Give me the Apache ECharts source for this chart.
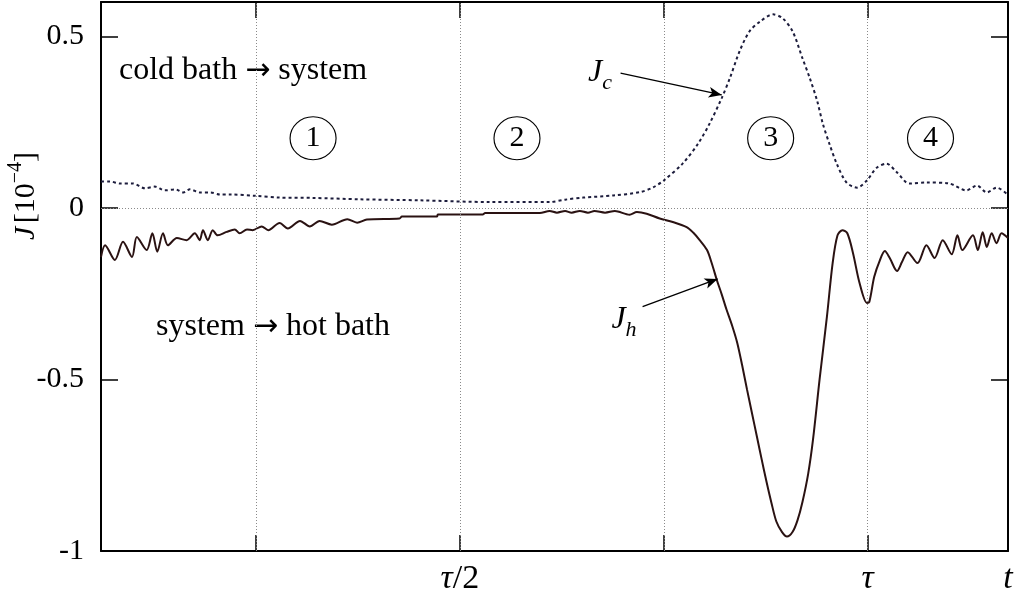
<!DOCTYPE html>
<html>
<head>
<meta charset="utf-8">
<script src="https://cdn.jsdelivr.net/npm/echarts@6/dist/echarts.min.js"></script>
<style>
  html, body { margin: 0; padding: 0; background: #fff; }
  #chart { width: 1020px; height: 601px; }
</style>
</head>
<body>
<div id="chart"></div>
<script>
// Time in units of the cycle period tau, heat currents in units of 1e-4.
const jcTime = [0.060,0.071,0.083,0.099,0.114,0.126,0.138,0.151,0.161,0.169,0.181,0.194,0.206,0.218,0.250,0.279,0.320,0.377,0.451,0.537,0.610,0.629,0.651,0.688,0.721,0.737,0.750,0.773,0.792,0.806,0.821,0.831,0.843,0.855,0.868,0.884,0.896,0.908,0.920,0.929,0.938,0.945,0.953,0.962,0.974,0.987,0.999,1.011,1.023,1.036,1.051,1.072,1.100,1.121,1.134,1.146,1.158,1.170];
const jcValue = [0.077,0.077,0.071,0.071,0.057,0.062,0.051,0.054,0.045,0.054,0.045,0.045,0.039,0.039,0.035,0.030,0.029,0.025,0.022,0.017,0.017,0.024,0.030,0.036,0.046,0.060,0.080,0.129,0.187,0.245,0.320,0.378,0.457,0.514,0.543,0.564,0.552,0.514,0.436,0.378,0.312,0.245,0.187,0.129,0.074,0.059,0.080,0.117,0.129,0.103,0.071,0.074,0.071,0.051,0.065,0.045,0.059,0.042];

const jhTime = [0.060,0.065,0.077,0.087,0.098,0.104,0.116,0.123,0.129,0.136,0.142,0.153,0.165,0.175,0.181,0.185,0.191,0.197,0.203,0.214,0.224,0.230,0.239,0.246,0.257,0.265,0.279,0.289,0.304,0.316,0.328,0.343,0.362,0.374,0.386,0.426,0.429,0.472,0.473,0.528,0.531,0.598,0.610,0.619,0.629,0.637,0.647,0.657,0.665,0.678,0.690,0.708,0.717,0.729,0.745,0.761,0.778,0.786,0.794,0.803,0.809,0.815,0.821,0.827,0.834,0.840,0.846,0.852,0.858,0.864,0.870,0.876,0.882,0.888,0.895,0.901,0.908,0.914,0.920,0.927,0.933,0.941,0.950,0.957,0.963,0.969,0.975,0.982,0.990,0.999,1.002,1.008,1.015,1.021,1.027,1.036,1.042,1.049,1.061,1.072,1.082,1.092,1.103,1.110,1.116,1.129,1.135,1.141,1.146,1.152,1.158,1.164,1.172];
const jhValue = [-0.143,-0.109,-0.152,-0.099,-0.143,-0.085,-0.123,-0.074,-0.128,-0.074,-0.109,-0.088,-0.094,-0.074,-0.094,-0.065,-0.094,-0.065,-0.080,-0.070,-0.063,-0.074,-0.063,-0.065,-0.054,-0.065,-0.044,-0.060,-0.038,-0.054,-0.038,-0.049,-0.033,-0.043,-0.034,-0.031,-0.025,-0.025,-0.019,-0.019,-0.015,-0.015,-0.009,-0.014,-0.009,-0.014,-0.009,-0.014,-0.009,-0.014,-0.009,-0.020,-0.012,-0.017,-0.031,-0.041,-0.056,-0.072,-0.094,-0.123,-0.163,-0.210,-0.252,-0.297,-0.345,-0.393,-0.458,-0.529,-0.597,-0.665,-0.733,-0.799,-0.860,-0.914,-0.945,-0.958,-0.944,-0.910,-0.857,-0.775,-0.674,-0.500,-0.317,-0.161,-0.080,-0.065,-0.074,-0.132,-0.219,-0.277,-0.274,-0.201,-0.152,-0.126,-0.146,-0.184,-0.158,-0.129,-0.161,-0.109,-0.146,-0.094,-0.135,-0.080,-0.123,-0.080,-0.123,-0.071,-0.114,-0.074,-0.103,-0.074,-0.088];

// Axis ticks and labels
const xTicks = [0.25, 0.5, 0.75, 1.0];
const xTickLabels = { '0.5': '{i|τ}{n|/2}', '1': '{i|τ}', '1.172': '{i|t}' };
const yTicks = [-1, -0.5, 0, 0.5];
const yTickLabels = ['-1', '-0.5', '0', '0.5'];

// Stage markers (circled numbers) and arrows pointing at the curves
const stageNames = ['1', '2', '3', '4'];
const stageTime = [0.320, 0.570, 0.881, 1.077];
const stageLevel = [0.203, 0.203, 0.203, 0.203];
const arrowJc = [[0.697, 0.393], [0.821, 0.329]];
const arrowJh = [[0.724, -0.288], [0.816, -0.207]];

const SERIF = '"Liberation Serif", "Times New Roman", serif';
const ARROWFONT = '"DejaVu Sans", sans-serif';
const X_MIN = 0.06, X_MAX = 1.172;

const zip = (a, b) => a.map((v, i) => [v, b[i]]);

const chart = echarts.init(document.getElementById('chart'), null, { renderer: 'canvas' });

const frameLine = { show: true, onZero: false, lineStyle: { color: '#000', width: 2 } };
const tickStyle = { color: '#000', width: 1.5 };

const plainText = { fontFamily: SERIF, fontSize: 32, fill: '#000', verticalAlign: 'middle', lineHeight: 40 };
const arrowText = { fontFamily: ARROWFONT, fontSize: 30, fill: '#000', verticalAlign: 'middle', lineHeight: 40 };
const subLabel = {
  i: { fontFamily: SERIF, fontStyle: 'italic', fontSize: 32, fill: '#000', lineHeight: 42, verticalAlign: 'middle' },
  s: { fontFamily: SERIF, fontStyle: 'italic', fontSize: 22, fill: '#000', lineHeight: 42, verticalAlign: 'bottom' }
};

chart.setOption({
  animation: false,
  backgroundColor: '#fff',
  grid: { left: 101, right: 12, top: 2, bottom: 50 },
  xAxis: [
    {
      type: 'value', min: X_MIN, max: X_MAX, position: 'bottom',
      axisLine: frameLine,
      axisTick: { show: true, inside: true, length: 16, lineStyle: tickStyle, customValues: xTicks },
      axisLabel: {
        show: true, margin: 11, customValues: [0.5, 1.0, 1.172],
        formatter: v => xTickLabels[String(Math.round(v * 1000) / 1000)] || '',
        rich: {
          i: { fontFamily: SERIF, fontStyle: 'italic', fontSize: 34, color: '#000' },
          n: { fontFamily: SERIF, fontSize: 34, color: '#000' }
        }
      },
      splitLine: { show: false }
    },
    {
      type: 'value', min: X_MIN, max: X_MAX, position: 'top',
      axisLine: frameLine,
      axisTick: { show: true, inside: true, length: 16, lineStyle: tickStyle, customValues: xTicks },
      axisLabel: { show: false },
      splitLine: { show: false }
    }
  ],
  yAxis: [
    {
      type: 'value', min: -1, max: 0.6, position: 'left',
      axisLine: frameLine,
      axisTick: { show: true, inside: true, length: 17, lineStyle: tickStyle, customValues: yTicks },
      axisLabel: {
        show: true, margin: 17, customValues: yTicks,
        formatter: v => yTickLabels[yTicks.findIndex(t => Math.abs(t - v) < 1e-6)] || '',
        fontFamily: SERIF, fontSize: 30, color: '#000'
      },
      splitLine: { show: false }
    },
    {
      type: 'value', min: -1, max: 0.6, position: 'right',
      axisLine: frameLine,
      axisTick: { show: true, inside: true, length: 17, lineStyle: tickStyle, customValues: yTicks },
      axisLabel: { show: false },
      splitLine: { show: false }
    }
  ],
  series: [
    {
      // dotted reference grid: quarter periods and the zero line
      type: 'line', data: [], z: 1, silent: true,
      markLine: {
        silent: true, symbol: ['none', 'none'], label: { show: false },
        lineStyle: { color: '#8a8a8a', width: 1, type: [1, 2] },
        emphasis: { disabled: true },
        data: xTicks.map(t => ({ xAxis: t })).concat([{ yAxis: 0 }])
      }
    },
    {
      name: 'Jc', type: 'line', data: zip(jcTime, jcValue), showSymbol: false, z: 3, smooth: 0.3,
      lineStyle: { color: '#1c1c3c', width: 2, type: [3, 3] }
    },
    {
      name: 'Jh', type: 'line', data: zip(jhTime, jhValue), showSymbol: false, z: 4, smooth: 0.3,
      lineStyle: { color: '#2a1212', width: 2 }
    },
    {
      // label arrows
      type: 'line', data: [], z: 5, silent: true,
      markLine: {
        silent: true, symbol: ['none', 'arrow'], symbolSize: [8, 13],
        label: { show: false },
        lineStyle: { color: '#000', width: 1.3, type: 'solid' },
        emphasis: { disabled: true },
        data: [
          [{ coord: arrowJc[0] }, { coord: arrowJc[1] }],
          [{ coord: arrowJh[0] }, { coord: arrowJh[1] }]
        ]
      }
    },
    {
      // circled stage numbers
      type: 'scatter', z: 6, silent: true,
      data: stageNames.map((n, i) => ({ name: n, value: [stageTime[i], stageLevel[i]] })),
      symbol: 'circle', symbolSize: [46, 43],
      itemStyle: { color: 'rgba(0,0,0,0)', borderColor: '#000', borderWidth: 1.1, opacity: 1 },
      label: {
        show: true, position: 'inside', formatter: p => p.name,
        fontFamily: SERIF, fontSize: 30, color: '#000'
      }
    }
  ],
  graphic: [
    {
      type: 'text', x: 119, y: 71,
      style: {
        text: '{n|cold bath }{a|→}{n| system}', textVerticalAlign: 'middle',
        rich: { n: plainText, a: arrowText }
      }
    },
    {
      type: 'text', x: 156, y: 327,
      style: {
        text: '{n|system }{a|→}{n| hot bath}', textVerticalAlign: 'middle',
        rich: { n: plainText, a: arrowText }
      }
    },
    {
      type: 'text', x: 600, y: 73,
      style: { text: '{i|J}{s|c}', textAlign: 'center', textVerticalAlign: 'middle', rich: subLabel }
    },
    {
      type: 'text', x: 624, y: 320,
      style: { text: '{i|J}{s|h}', textAlign: 'center', textVerticalAlign: 'middle', rich: subLabel }
    },
    {
      type: 'text', x: 26, y: 196, rotation: Math.PI / 2,
      style: {
        text: '{i|J} {n|[10}{p|−4}{n|]}', textAlign: 'center', textVerticalAlign: 'middle',
        rich: {
          i: { fontFamily: SERIF, fontStyle: 'italic', fontSize: 30, fill: '#000', lineHeight: 40, verticalAlign: 'middle' },
          n: { fontFamily: SERIF, fontSize: 30, fill: '#000', lineHeight: 40, verticalAlign: 'middle' },
          p: { fontFamily: SERIF, fontSize: 20, fill: '#000', lineHeight: 40, verticalAlign: 'top' }
        }
      }
    }
  ]
});
</script>
</body>
</html>
